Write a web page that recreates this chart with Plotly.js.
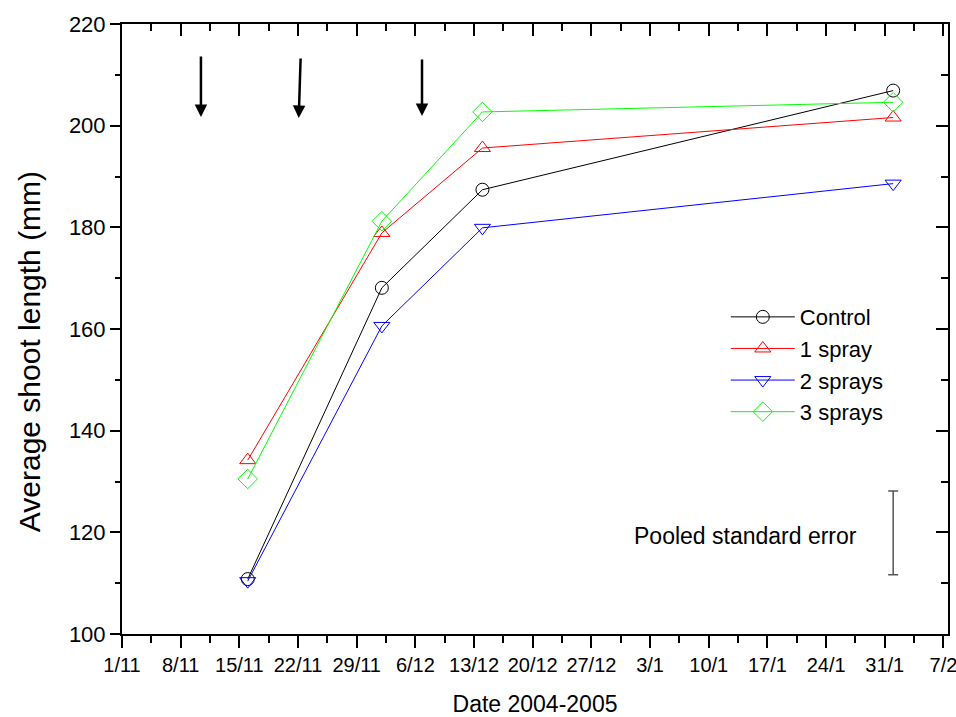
<!DOCTYPE html>
<html>
<head>
<meta charset="utf-8">
<script src="https://cdn.plot.ly/plotly-3.0.1.min.js"></script>
<style>html,body{margin:0;padding:0;background:#fff;}#chart{width:956px;height:717px;}</style>
</head>
<body>
<div id="chart"></div>
<script>
// ---- data ----
const sampleDates = ['2004-11-16', '2004-12-02', '2004-12-14', '2005-02-01'];
const controlVals = [110.8, 168.1, 187.4, 206.9];
const spray1Vals  = [134.2, 178.9, 195.6, 201.6];
const spray2Vals  = [110.4, 160.6, 179.9, 188.6];
const spray3Vals  = [130.5, 181.2, 202.7, 204.6];
const seriesNames = ['Control', '1 spray', '2 sprays', '3 sprays'];

// spray application arrows (date, arrow tip value, arrow tail date/value)
const sprayTipDates  = ['2004-11-10 10:00', '2004-11-22 02:00', '2004-12-06 19:00'];
const sprayTailDates = ['2004-11-10 10:00', '2004-11-22 07:30', '2004-12-06 19:00'];
const sprayTipVals   = [201.7, 201.5, 201.9];
const sprayTailVals  = [213.9, 213.5, 213.3];

// pooled standard error bar
const pooledSEDate = ['2005-02-01'];
const pooledSECenter = [119.9];
const pooledSE = [8.25];

const xTickFormat = '%-d/%-m';

// ---- traces ----
const colors = ['#000000', '#ff0000', '#0000ff', '#00ff00'];
const symbols = ['circle-open', 'triangle-up-open', 'triangle-down-open', 'diamond-open'];
const sizes = [13, 14, 14, 15];
const vals = [controlVals, spray1Vals, spray2Vals, spray3Vals];

const traces = vals.map((v, i) => ({
  type: 'scatter', mode: 'lines+markers',
  x: sampleDates, y: v, name: seriesNames[i],
  line: {color: colors[i], width: 1},
  marker: {symbol: symbols[i], size: sizes[i], color: colors[i], line: {width: 1, color: colors[i]}}
}));

traces.push({
  type: 'scatter', mode: 'markers', x: pooledSEDate, y: pooledSECenter,
  showlegend: false, hoverinfo: 'skip',
  marker: {opacity: 0, size: 1},
  error_y: {type: 'data', array: pooledSE, visible: true, color: '#555555', thickness: 1.5, width: 5}
});

// dummy trace for mirrored (top/right) axes
traces.push({type: 'scatter', x: [], y: [], xaxis: 'x2', yaxis: 'y2', showlegend: false, hoverinfo: 'skip'});

const xRange = ['2004-11-01', '2005-02-07 13:00'];
const yRange = [100, 220];
const font = {family: 'Liberation Sans, Arial, sans-serif', color: '#000'};

const annotations = sprayTipDates.map((d, i) => ({
  x: d, y: sprayTipVals[i], ax: sprayTailDates[i], ay: sprayTailVals[i],
  xref: 'x', yref: 'y', axref: 'x', ayref: 'y',
  text: '', showarrow: true, arrowhead: 2, arrowsize: 1, arrowwidth: 2.5, arrowcolor: '#000'
}));
annotations.push({
  xref: 'paper', yref: 'y', x: 0.755, y: 119.3, xanchor: 'center', yanchor: 'middle',
  text: 'Pooled standard error', showarrow: false, font: {size: 23, color: '#000'}
});
// y axis title (placed as in the reference, slightly below plot centre)
annotations.push({
  xref: 'paper', yref: 'y', x: -0.111, y: 155.5, xanchor: 'center', yanchor: 'middle',
  textangle: -90, text: 'Average shoot length (mm)', showarrow: false, font: {size: 30, color: '#000'}
});

const layout = {
  width: 956, height: 717,
  margin: {l: 122, r: 8, t: 24, b: 83},
  paper_bgcolor: '#fff', plot_bgcolor: '#fff',
  font: font,
  showlegend: true,
  legend: {x: 0.731, y: 0.554, xanchor: 'left', yanchor: 'top', bgcolor: 'rgba(0,0,0,0)',
           font: {size: 22, color: '#000'}, itemwidth: 64, tracegroupgap: 0},
  xaxis: {
    type: 'date', range: xRange, tick0: '2004-11-01', dtick: 7 * 86400000,
    tickformat: xTickFormat, ticks: 'outside', ticklen: 12, tickwidth: 2, tickcolor: '#000',
    minor: {dtick: 3.5 * 86400000, tick0: '2004-11-01', ticks: 'outside', ticklen: 7, tickwidth: 2, tickcolor: '#000'},
    showline: true, linewidth: 2, linecolor: '#000', showgrid: false, zeroline: false,
    ticklabeloverflow: 'allow',
    tickfont: {size: 20}, title: {text: 'Date 2004-2005', font: {size: 23}, standoff: 23}
  },
  yaxis: {
    range: yRange, dtick: 20, ticks: 'outside', ticklen: 10, tickwidth: 2, tickcolor: '#000',
    minor: {dtick: 10, ticks: 'outside', ticklen: 5, tickwidth: 2, tickcolor: '#000'},
    showline: true, linewidth: 2, linecolor: '#000', showgrid: false, zeroline: false,
    tickfont: {size: 22}
  },
  xaxis2: {
    type: 'date', range: xRange, overlaying: 'x', side: 'top', anchor: 'y2',
    tick0: '2004-11-01', dtick: 7 * 86400000, showticklabels: false,
    ticks: 'inside', ticklen: 12, tickwidth: 2, tickcolor: '#000',
    minor: {dtick: 3.5 * 86400000, tick0: '2004-11-01', ticks: 'inside', ticklen: 7, tickwidth: 2, tickcolor: '#000'},
    showline: true, linewidth: 2, linecolor: '#000', showgrid: false, zeroline: false
  },
  yaxis2: {
    range: yRange, overlaying: 'y', side: 'right', anchor: 'x2', dtick: 20, showticklabels: false,
    ticks: 'inside', ticklen: 12, tickwidth: 2, tickcolor: '#000',
    minor: {dtick: 10, ticks: 'inside', ticklen: 7, tickwidth: 2, tickcolor: '#000'},
    showline: true, linewidth: 2, linecolor: '#000', showgrid: false, zeroline: false
  },
  annotations: annotations
};

Plotly.newPlot('chart', traces, layout, {displayModeBar: false, staticPlot: true});
</script>
</body>
</html>
